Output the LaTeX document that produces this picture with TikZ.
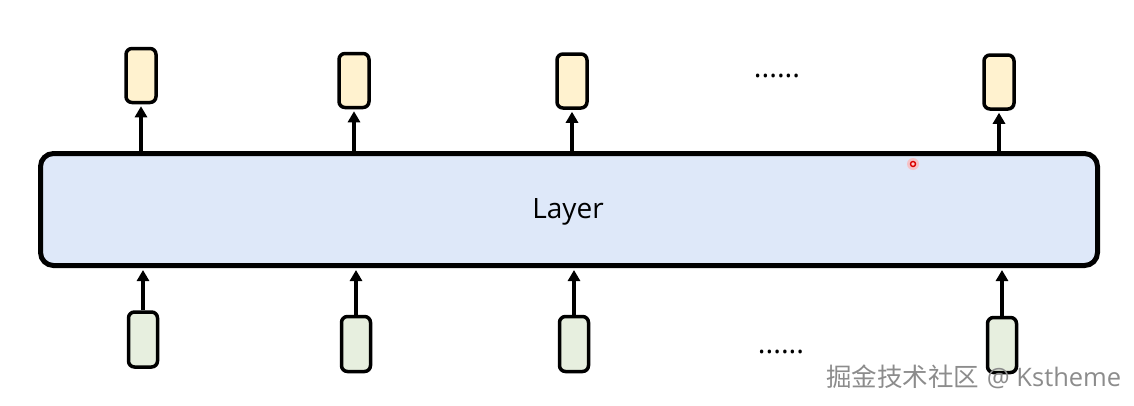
\documentclass[tikz,border=0pt]{standalone}
\usepackage{fontspec}
\setsansfont{Open Sans}
\newfontfamily\cjkfont{Noto Sans CJK SC}
\usetikzlibrary{arrows.meta}
\definecolor{layerfill}{HTML}{DEE8F9}
\definecolor{outfill}{HTML}{FFF2CF}
\definecolor{infill}{HTML}{E7EFDF}
\definecolor{wmgray}{HTML}{8C8C8C}
\tikzset{
  layerbox/.style={draw=black, line width=5pt, rounded corners=13pt, fill=layerfill,
    minimum width=1057pt, minimum height=112pt, inner sep=0pt},
  outbox/.style={draw=black, line width=3.5pt, rounded corners=6pt, fill=outfill,
    minimum width=30pt, minimum height=54pt, inner sep=0pt},
  inbox/.style={draw=black, line width=3.5pt, rounded corners=6pt, fill=infill,
    minimum width=29pt, minimum height=55pt, inner sep=0pt},
  arr/.style={line width=3.2pt, -{Triangle[length=11pt,width=12pt]}, shorten >=2pt},
  dots/.style={font=\sffamily\fontsize{29pt}{29pt}\selectfont, inner sep=0pt},
}
\begin{document}
\begin{tikzpicture}[x=1pt,y=-1pt]
\useasboundingbox (0,0) rectangle (1134,405);
\node[layerbox] (layer) at (569,209.5) {};
\node[font=\sffamily\fontsize{28pt}{28pt}\selectfont] (lbl) at (568,212) {Layer};
% top outputs
\node[outbox] (t1) at (141,75.5) {};
\node[outbox] (t2) at (354,80.5) {};
\node[outbox] (t3) at (572,81) {};
\node[outbox] (t4) at (999,82) {};
% bottom inputs
\node[inbox] (b1) at (143,339.5) {};
\node[inbox] (b2) at (356,344) {};
\node[inbox] (b3) at (574,344) {};
\node[inbox] (b4) at (1002,345) {};
% arrows
\foreach \n in {1,2,3,4} {
  \draw[arr] (layer.north -| t\n) -- (t\n.south);
  \draw[arr] (b\n.north) -- (layer.south -| b\n);
}
% dots
\node[dots] (d1) at (777,76) {......};
\node[dots] (d2) at (781,352) {......};
% red marker
\fill[red!30, opacity=0.7] (913,164) circle (6pt);
\node[circle, draw=red!85!black, fill=red!20, line width=1.4pt, inner sep=0pt, minimum size=5pt] (rm) at (913,164) {};
% watermark
\node[anchor=west, inner sep=0pt, text=wmgray, font=\fontsize{25.5pt}{25.5pt}\selectfont] (wm) at (826,377)
  {{\cjkfont 掘金技术社区} {\sffamily @ Kstheme}};
\end{tikzpicture}
\end{document}
